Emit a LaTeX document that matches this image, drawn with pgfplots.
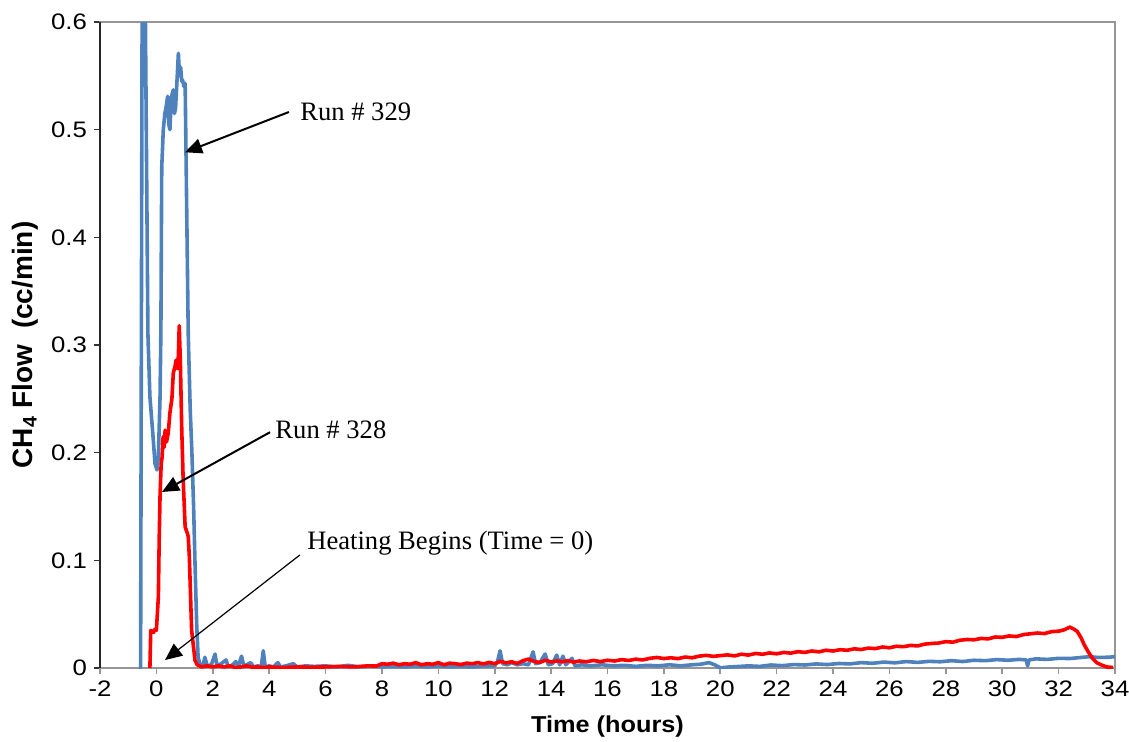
\documentclass[border=0pt]{standalone}
\usepackage{graphicx}
\usepackage{pgfplots}
\pgfplotsset{compat=1.18}
\usepackage{fontspec}
\setmainfont{Liberation Sans}
\newfontfamily\timesfont{Liberation Serif}
\usetikzlibrary{arrows.meta}

\definecolor{runblue}{HTML}{4F81BD}
\definecolor{runred}{HTML}{FF0000}
\definecolor{framegray}{HTML}{969696}
\newcommand{\wide}[1]{\scalebox{1.15}[1]{#1}}

\begin{document}
\begin{tikzpicture}
\begin{axis}[
    name=ax,
    at={(0,0)}, anchor=south west,
    scale only axis,
    width=507.5pt, height=323pt,
    xmin=-2, xmax=34,
    ymin=0, ymax=0.6,
    xtick={-2,0,...,34},
    ytick={0,0.1,0.2,0.3,0.4,0.5,0.6},
    axis line style={framegray, line width=0.8pt},
    tick align=outside,
    xtick pos=bottom, ytick pos=left,
    major tick length=3pt,
    x tick style={framegray, line width=0.8pt},
    y tick style={black!80, line width=0.8pt},
    tick label style={font=\fontsize{11.2}{13}\selectfont},
    xticklabel={\wide{\pgfmathprintnumber[assume math mode=true]{\tick}}},
    yticklabel={\wide{\pgfmathprintnumber[fixed,precision=1,assume math mode=true]{\tick}}},
    xlabel={\scalebox{1.1}[1]{\textbf{Time (hours)}}},
    ylabel={\textbf{CH\textsubscript{4} Flow\ \ (cc/min)}},
    xlabel style={font=\fontsize{11.5}{13}\selectfont, at={(axis description cs:0.5,-0.09)}, anchor=center},
    ylabel style={font=\fontsize{14}{16}\selectfont, at={(axis description cs:-0.0739,0.5)}, anchor=center},
]

% Run # 329
\addplot[color=runblue, line width=1.8pt, line join=round] coordinates {
(-0.62,0) (-0.56,0) (-0.48,0.9) (-0.30,0.31) (-0.23,0.252) (-0.11,0.212) (-0.05,0.19)
(0.02,0.184) (0.07,0.196) (0.13,0.252) (0.16,0.314) (0.19,0.465) (0.245,0.50)
(0.30,0.515) (0.34,0.52) (0.40,0.531) (0.44,0.505) (0.48,0.50) (0.53,0.53)
(0.60,0.537) (0.64,0.515) (0.68,0.52) (0.74,0.55) (0.78,0.571) (0.82,0.55)
(0.86,0.558) (0.90,0.545) (0.93,0.546) (0.98,0.54) (1.02,0.543) (1.05,0.48)
(1.13,0.31) (1.20,0.24) (1.26,0.20) (1.32,0.15) (1.37,0.097) (1.43,0.04) (1.48,0.01)
(1.55,0.003) (1.65,0.002) (1.72,0.010) (1.80,0.002) (1.95,0.003) (2.08,0.013)
(2.15,0.002) (2.30,0.004) (2.47,0.0075) (2.55,0.001) (2.70,0.003) (2.82,0.006)
(2.90,0.001) (3.02,0.011) (3.10,0.002) (3.20,0.003) (3.34,0.005) (3.45,0.001)
(3.60,0.002) (3.72,0.001) (3.79,0.016) (3.86,0.001) (4.00,0.002) (4.15,0.001)
(4.31,0.005) (4.40,0.001) (4.60,0.002) (4.85,0.004) (5.00,0.001) (5.30,0.002)
(5.60,0.0015) (6.00,0.002) (6.40,0.001) (6.80,0.0025) (7.20,0.001) (7.60,0.002)
(8.00,0.001) (8.40,0.0015) (8.80,0.001) (9.20,0.002) (9.60,0.001) (10.00,0.002)
(10.40,0.001) (10.80,0.0015) (11.20,0.001) (11.60,0.002) (12.00,0.002) (12.10,0.006)
(12.19,0.016) (12.28,0.004) (12.45,0.003) (12.60,0.005) (12.80,0.003) (13.00,0.004)
(13.20,0.003) (13.36,0.015) (13.45,0.004) (13.60,0.005) (13.79,0.013) (13.90,0.003)
(14.05,0.004) (14.20,0.012) (14.30,0.003) (14.42,0.011) (14.52,0.003) (14.74,0.009)
(14.85,0.002) (15.10,0.003) (15.40,0.002) (15.80,0.003) (16.20,0.002) (16.60,0.0025)
(17.00,0.0015) (17.40,0.0025) (17.80,0.002) (18.20,0.003) (18.60,0.002) (19.00,0.003)
(19.30,0.0035) (19.60,0.005) (19.80,0.003) (20.00,0.0002) (20.35,0.001) (20.70,0.0015)
(21.00,0.002) (21.40,0.0015) (21.80,0.0028) (22.20,0.0022) (22.60,0.0032) (23.00,0.0028)
(23.40,0.0038) (23.80,0.0032) (24.20,0.0042) (24.60,0.0038) (25.00,0.005) (25.40,0.0044)
(25.80,0.0055) (26.20,0.0048) (26.60,0.006) (27.00,0.0052) (27.40,0.0062) (27.80,0.0058)
(28.20,0.0068) (28.60,0.006) (29.00,0.0072) (29.40,0.0068) (29.80,0.0078) (30.20,0.0072)
(30.60,0.008) (30.85,0.0075) (30.90,0.002) (30.95,0.0075) (31.20,0.0085) (31.60,0.008)
(32.00,0.009) (32.40,0.0088) (32.80,0.0098) (33.10,0.0105) (33.40,0.0098) (33.76,0.010)
(34.00,0.0105)
};

% Run # 328
\addplot[color=runred, line width=1.8pt, line join=round] coordinates {
(-0.23,0) (-0.20,0.035) (-0.10,0.033) (-0.05,0.036) (0.00,0.035) (0.07,0.066)
(0.10,0.12) (0.13,0.16) (0.17,0.19) (0.20,0.195) (0.24,0.215) (0.28,0.205) (0.31,0.221)
(0.36,0.21) (0.42,0.218) (0.48,0.237) (0.55,0.25) (0.60,0.274) (0.66,0.28) (0.70,0.286)
(0.75,0.278) (0.78,0.29) (0.81,0.318) (0.85,0.285) (0.90,0.221) (0.95,0.175) (1.02,0.131)
(1.10,0.125) (1.13,0.122) (1.17,0.103) (1.22,0.06) (1.25,0.035) (1.37,0.007) (1.45,0.003)
(1.60,0.001) (1.80,0.002) (2.00,0.001) (2.20,0.002) (2.40,0.001) (2.60,0.002) (2.80,0.0005)
(3.00,0.001) (3.20,0.002) (3.40,0.0008) (3.60,0.001) (3.80,0.0005) (4.00,0.001)
(4.50,0.0005) (5.00,0.001) (5.50,0.0008) (6.00,0.001) (6.50,0.0015) (7.00,0.001)
(7.50,0.002) (7.80,0.0018) (8.00,0.004) (8.20,0.0035) (8.40,0.0045) (8.60,0.003)
(8.80,0.004) (9.00,0.0035) (9.20,0.005) (9.40,0.003) (9.60,0.004) (9.80,0.0035)
(10.00,0.005) (10.20,0.003) (10.40,0.0045) (10.60,0.004) (10.80,0.0032) (11.00,0.0045)
(11.20,0.004) (11.40,0.005) (11.60,0.0038) (11.80,0.0052) (12.00,0.004) (12.20,0.0062)
(12.40,0.0048) (12.60,0.0058) (12.80,0.0042) (13.00,0.0068) (13.20,0.0083) (13.40,0.006)
(13.60,0.0052) (13.80,0.0072) (14.00,0.0056) (14.20,0.0066) (14.40,0.0058) (14.60,0.0068)
(14.80,0.0055) (15.00,0.0065) (15.25,0.0058) (15.50,0.007) (15.75,0.006) (16.00,0.0072)
(16.25,0.0065) (16.50,0.0078) (16.75,0.007) (17.00,0.0082) (17.25,0.0075) (17.50,0.009)
(17.75,0.0098) (18.00,0.0088) (18.25,0.0095) (18.50,0.0087) (18.75,0.0102) (19.00,0.0095)
(19.25,0.011) (19.50,0.0118) (19.75,0.0108) (20.00,0.0115) (20.25,0.0122) (20.50,0.0112)
(20.75,0.0128) (21.00,0.012) (21.25,0.0135) (21.50,0.0128) (21.75,0.014) (22.00,0.0132)
(22.25,0.0145) (22.50,0.0138) (22.75,0.0152) (23.00,0.0145) (23.25,0.0158) (23.50,0.015)
(23.75,0.0165) (24.00,0.0158) (24.25,0.017) (24.50,0.0165) (24.75,0.0178) (25.00,0.0172)
(25.25,0.0185) (25.50,0.018) (25.75,0.0195) (26.00,0.0188) (26.25,0.0202) (26.50,0.0198)
(26.75,0.021) (27.00,0.0205) (27.25,0.0222) (27.50,0.0228) (27.75,0.0232) (28.00,0.0245)
(28.25,0.024) (28.50,0.0258) (28.75,0.0265) (29.00,0.0262) (29.25,0.0275) (29.50,0.027)
(29.75,0.0288) (30.00,0.0285) (30.25,0.0298) (30.50,0.0292) (30.75,0.031) (31.00,0.0318)
(31.25,0.0325) (31.50,0.032) (31.75,0.0338) (32.00,0.0342) (32.20,0.0355) (32.40,0.038)
(32.55,0.036) (32.66,0.034) (32.80,0.028) (32.90,0.022) (33.05,0.015) (33.20,0.009)
(33.35,0.005) (33.50,0.003) (33.70,0.001) (33.93,0.0005)
};

% annotations
\node[anchor=west, font=\timesfont\fontsize{13.3}{15}\selectfont, inner sep=0pt] at (axis cs:5.09,0.517) {Run \# 329};
\draw[line width=1pt, -{Triangle[length=8.5pt, width=7.5pt]}] (axis cs:4.70,0.5164) -- (axis cs:1.015,0.479);

\node[anchor=west, font=\timesfont\fontsize{13.3}{15}\selectfont, inner sep=0pt] at (axis cs:4.21,0.221) {Run \# 328};
\draw[line width=1pt, -{Triangle[length=8.5pt, width=7.5pt]}] (axis cs:4.03,0.219) -- (axis cs:0.199,0.1635);

\node[anchor=west, font=\timesfont\fontsize{13.3}{15}\selectfont, inner sep=0pt] at (axis cs:5.34,0.116) {Heating Begins (Time = 0)};
\draw[line width=0.6pt, -{Triangle[length=8.5pt, width=7.5pt]}] (axis cs:5.09,0.105) -- (axis cs:0.306,0.0074);

\end{axis}
\draw[black!85, line width=0.8pt] (ax.south west) -- (ax.north west);
\pgfresetboundingbox
\path[use as bounding box] (-50pt,-36.5pt) rectangle (514.5pt,334pt);
\end{tikzpicture}
\end{document}
